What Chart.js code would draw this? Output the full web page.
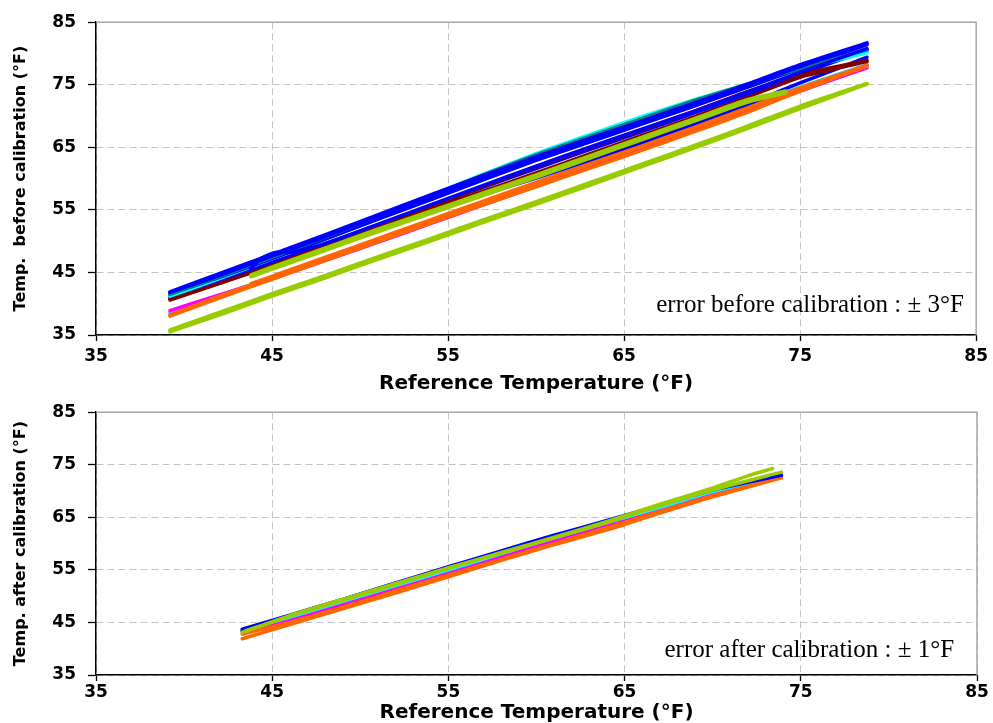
<!DOCTYPE html>
<html>
<head>
<meta charset="utf-8">
<script src="https://cdn.jsdelivr.net/npm/chart.js@4/dist/chart.umd.min.js"></script>
<style>
  html, body { margin: 0; padding: 0; background: #ffffff; }
  #wrap { position: relative; width: 993px; height: 723px; }
  canvas { position: absolute; left: 0; }
  #topChart { top: 0; }
  #bottomChart { top: 390px; }
</style>
</head>
<body>
<div id="wrap">
  <canvas id="topChart" width="993" height="395"></canvas>
  <canvas id="bottomChart" width="993" height="333"></canvas>
</div>
<script>
// ---- axis labels and captions ----
const X_TITLE = 'Reference Temperature (°F)';
const Y_TITLE_BEFORE = 'Temp.  before calibration (°F)';
const Y_TITLE_AFTER = 'Temp. after calibration (°F)';
const NOTE_BEFORE = 'error before calibration : ± 3°F';
const NOTE_AFTER = 'error after calibration : ± 1°F';
const AXIS_MIN = 35;
const AXIS_MAX = 85;
const AXIS_STEP = 10;

// ---- sensor traces before calibration (reference °F -> sensor °F) ----
const TOP_X = [39.2, 42, 45, 48, 51, 54, 57, 60, 63, 66, 69, 72, 75, 78.8];
const B_BLUE_A   = [41.8, 44.5, 47.6, 50.7, 53.9, 57.0, 60.1, 63.2, 66.1, 69.0, 71.9, 74.9, 77.9, 81.6];
const B_BLUE_B   = [41.6, 44.2, 47.2, 50.3, 53.5, 56.6, 59.8, 62.9, 65.8, 68.7, 71.6, 74.6, 77.6, 81.4];
const B_BLUE_D   = [41.2, 43.7, 46.6, 49.6, 52.6, 55.6, 58.6, 61.6, 64.6, 67.5, 70.5, 73.5, 76.7, 80.5];
const B_BLUE_E   = [40.9, 43.3, 46.1, 48.9, 51.8, 54.6, 57.4, 60.1, 62.9, 65.8, 68.8, 71.9, 75.3, 79.4];
const B_BLUE_F   = [41.9, 44.8, 47.9, 51.0, 54.2, 57.4, 60.5, 63.5, 66.4, 69.2, 72.1, 75.1, 78.2, 81.7];
const B_TEAL     = [41.5, 44.3, 47.4, 50.6, 53.9, 57.2, 60.6, 63.8, 66.7, 69.6, 72.5, 75.1, 77.6, 80.6];
const B_CYAN_A   = [41.2, 44.0, 47.2, 50.5, 53.9, 57.3, 60.7, 64.0, 67.0, 69.9, 72.6, 75.1, 77.5, 80.1];
const B_MAROON_A = [40.6, 43.2, 46.1, 49.2, 52.4, 55.5, 58.7, 61.9, 64.9, 67.8, 70.8, 73.9, 76.6, 78.9];
const B_MAROON_B = [40.8, 43.4, 46.4, 49.3, 52.2, 55.1, 58.0, 60.9, 63.9, 66.9, 69.9, 73.0, 76.2, 78.7];
const B_MAGENTA  = [38.9, 41.4, 44.0, 46.9, 49.8, 52.8, 55.8, 58.8, 61.8, 64.8, 67.8, 70.9, 74.0, 77.7];
const B_CYAN_B   = [38.5, 41.3, 44.2, 47.2, 50.2, 53.3, 56.3, 59.3, 62.3, 65.3, 68.3, 71.4, 74.6, 78.2];
const B_ORANGE_A = [38.0, 40.9, 43.9, 46.9, 49.9, 52.9, 55.8, 58.7, 61.6, 64.5, 67.5, 70.6, 74.0, 78.0];
const B_ORANGE_B = [38.2, 41.2, 44.2, 47.2, 50.3, 53.3, 56.3, 59.2, 62.2, 65.1, 68.1, 71.2, 74.5, 78.1];
const B_GREEN_A  = [35.5, 38.2, 41.2, 44.1, 47.1, 50.0, 53.0, 55.9, 58.9, 61.9, 64.9, 68.0, 71.2, 75.1];
const B_GREEN_B  = [35.8, 38.6, 41.6, 44.5, 47.5, 50.4, 53.4, 56.3, 59.3, 62.3, 65.3, 68.4, 71.6, 75.2];
// shorter runs logged over part of the range
const BUMP_X     = [43.8, 44.4, 45.2, 46.2, 48, 51, 54, 57, 60, 63, 66, 69, 72, 75, 78.8];
const B_BLUE_C   = [45.6, 47.3, 48.2, 48.3, 49.6, 52.7, 55.8, 58.9, 62.0, 65.0, 67.9, 70.8, 73.8, 77.0, 80.8];
const MID_X      = [43.8, 46, 48, 51, 54, 57, 60, 63, 66, 69, 72, 74.2];
const B_GREEN_C  = [44.6, 46.9, 48.9, 51.9, 54.8, 57.7, 60.6, 63.6, 66.6, 69.6, 72.6, 74.0];
const B_GREEN_D  = [44.3, 46.5, 48.5, 51.5, 54.4, 57.3, 60.2, 63.2, 66.2, 69.2, 72.2, 73.7];
const B_ORANGE_C = [43.2, 45.4, 47.4, 50.4, 53.4, 56.4, 59.4, 62.4, 65.4, 68.4, 71.4, 73.6];

// ---- the same sensors after calibration ----
const BOT_X = [43.3, 46, 49, 52, 55, 58, 61, 64, 67, 70, 73.9];
const A_BLUE     = [43.7, 46.4, 49.4, 52.5, 55.6, 58.6, 61.6, 64.4, 67.3, 70.2, 73.0];
const A_BLUE_2   = [43.5, 46.1, 49.1, 52.1, 55.2, 58.2, 61.2, 64.1, 67.0, 69.9, 72.8];
const A_GREEN    = [43.1, 46.3, 49.4, 52.4, 55.4, 58.2, 61.1, 64.0, 67.2, 70.2, 73.6];
const A_CYAN     = [43.5, 46.0, 49.0, 52.0, 55.0, 58.1, 61.1, 64.0, 66.9, 69.9, 73.2];
const A_MAGENTA  = [43.2, 45.6, 48.6, 51.6, 54.5, 57.5, 60.5, 63.5, 66.5, 69.6, 72.9];
const A_MAROON   = [43.3, 45.6, 48.5, 51.5, 54.3, 57.3, 60.4, 63.5, 66.6, 69.6, 72.9];
const A_ORANGE_A = [41.9, 44.6, 47.6, 50.6, 53.7, 56.8, 59.8, 62.6, 65.8, 68.9, 72.5];
const A_ORANGE_B = [42.8, 45.0, 47.9, 51.0, 54.0, 57.0, 60.0, 63.0, 66.1, 69.1, 72.7];
const GREEN2_X   = [43.5, 46, 49, 52, 55, 58, 61, 64, 67, 70, 72, 73.4];
const A_GREEN_2  = [43.4, 46.2, 49.2, 52.2, 55.3, 58.3, 61.2, 64.2, 67.5, 70.6, 72.9, 74.3];

// ---- palette ----
const C = {
  blue: '#0000ff', navy: '#1a1ad8', teal: '#008080', cyan: '#00ffff', sky: '#33ccff',
  maroon: '#800000', magenta: '#ff00ff', orange: '#ff6600', green: '#99cc00'
};

function pairs(xs, ys) { return xs.map((x, i) => ({ x: x, y: ys[i] })); }
function trace(color, xs, ys) {
  return {
    data: pairs(xs, ys), borderColor: color, backgroundColor: color,
    borderWidth: 3.5, pointRadius: 0, tension: 0.2, fill: false,
    borderCapStyle: 'round', borderJoinStyle: 'round'
  };
}

// first dataset ends up drawn on top
const topSets = [
  trace(C.green, MID_X, B_GREEN_C),
  trace(C.green, MID_X, B_GREEN_D),
  trace(C.green, TOP_X, B_GREEN_A),
  trace(C.green, TOP_X, B_GREEN_B),
  trace(C.blue, BUMP_X, B_BLUE_C),
  trace(C.blue, TOP_X, B_BLUE_F),
  trace(C.blue, TOP_X, B_BLUE_A),
  trace(C.teal, TOP_X, B_TEAL),
  trace(C.blue, TOP_X, B_BLUE_B),
  trace(C.cyan, TOP_X, B_CYAN_A),
  trace(C.maroon, TOP_X, B_MAROON_A),
  trace(C.blue, TOP_X, B_BLUE_D),
  trace(C.maroon, TOP_X, B_MAROON_B),
  trace(C.blue, TOP_X, B_BLUE_E),
  trace(C.orange, TOP_X, B_ORANGE_A),
  trace(C.orange, TOP_X, B_ORANGE_B),
  trace(C.orange, MID_X, B_ORANGE_C),
  trace(C.magenta, TOP_X, B_MAGENTA),
  trace(C.sky, TOP_X, B_CYAN_B)
];

const bottomSets = [
  trace(C.green, GREEN2_X, A_GREEN_2),
  trace(C.green, BOT_X, A_GREEN),
  trace(C.blue, BOT_X, A_BLUE),
  trace(C.cyan, BOT_X, A_CYAN),
  trace(C.orange, BOT_X, A_ORANGE_A),
  trace(C.orange, BOT_X, A_ORANGE_B),
  trace(C.magenta, BOT_X, A_MAGENTA),
  trace(C.maroon, BOT_X, A_MAROON),
  trace(C.navy, BOT_X, A_BLUE_2)
];

const SANS = 'DejaVu Sans';

// gray frame on the top and right of the plot area
const framePlugin = {
  id: 'frame',
  beforeDatasetsDraw(chart) {
    const a = chart.chartArea, ctx = chart.ctx;
    ctx.save();
    ctx.strokeStyle = '#a6a6a6';
    ctx.lineWidth = 1.5;
    ctx.beginPath();
    ctx.moveTo(a.left, a.top);
    ctx.lineTo(a.right, a.top);
    ctx.lineTo(a.right, a.bottom);
    ctx.stroke();
    ctx.restore();
  }
};

// caption placed in data units at the lower right of the plot
const notePlugin = {
  id: 'note',
  afterDraw(chart, args, opts) {
    if (!opts || !opts.text) return;
    const ctx = chart.ctx;
    const px = chart.scales.x.getPixelForValue(opts.x);
    const py = chart.scales.y.getPixelForValue(opts.y);
    ctx.save();
    ctx.font = '25px "Liberation Serif", "Times New Roman", serif';
    ctx.fillStyle = '#000';
    ctx.textAlign = 'right';
    ctx.textBaseline = 'alphabetic';
    ctx.fillText(opts.text, px, py);
    ctx.restore();
  }
};

function scales(o) {
  const tickFont = { family: SANS, weight: 'bold', size: 17 };
  return {
    x: {
      type: 'linear', min: AXIS_MIN, max: AXIS_MAX,
      ticks: { stepSize: AXIS_STEP, padding: o.xTickPad, color: '#000', font: tickFont, maxRotation: 0, autoSkip: false },
      grid: { color: '#c4c4c4', lineWidth: 1, drawTicks: true, tickLength: 6, tickColor: '#000', tickWidth: 1.3 },
      border: { display: true, color: '#000', width: 1.5, dash: [7, 4] },
      title: { display: true, text: X_TITLE, color: '#000',
               font: { family: SANS, weight: 'bold', size: 20, lineHeight: o.xTitleLH },
               padding: { top: 0, bottom: 0 } },
      afterFit(s) { s.height = o.xHeight; }
    },
    y: {
      type: 'linear', min: AXIS_MIN, max: AXIS_MAX,
      ticks: { stepSize: AXIS_STEP, padding: 12, color: '#000', font: tickFont },
      grid: { color: '#c4c4c4', lineWidth: 1, drawTicks: true, tickLength: 8, tickColor: '#000', tickWidth: 1.3 },
      border: { display: true, color: '#000', width: 1.5, dash: [7, 4] },
      title: { display: true, text: o.yTitle, color: '#000',
               font: { family: SANS, weight: 'bold', size: 16, lineHeight: '20px' },
               padding: { top: 11, bottom: 0 } },
      afterFit(s) { s.width = 96; }
    }
  };
}

function makeChart(id, sets, o) {
  return new Chart(document.getElementById(id), {
    type: 'line',
    data: { datasets: sets },
    options: {
      responsive: false,
      animation: false,
      parsing: true,
      layout: { padding: { top: 14, right: 16, left: 0, bottom: 0 } },
      plugins: {
        legend: { display: false },
        tooltip: { enabled: false },
        note: { text: o.note, x: o.noteX, y: o.noteY }
      },
      scales: scales(o)
    },
    plugins: [framePlugin, notePlugin]
  });
}

makeChart('topChart', topSets, {
  yTitle: Y_TITLE_BEFORE, xHeight: 60, xTickPad: 5, xTitleLH: '23px',
  note: NOTE_BEFORE, noteX: 84.3, noteY: 38.7
});
makeChart('bottomChart', bottomSets, {
  yTitle: Y_TITLE_AFTER, xHeight: 48, xTickPad: 1, xTitleLH: '21px',
  note: NOTE_AFTER, noteX: 83.7, noteY: 38.5
});
</script>
</body>
</html>
